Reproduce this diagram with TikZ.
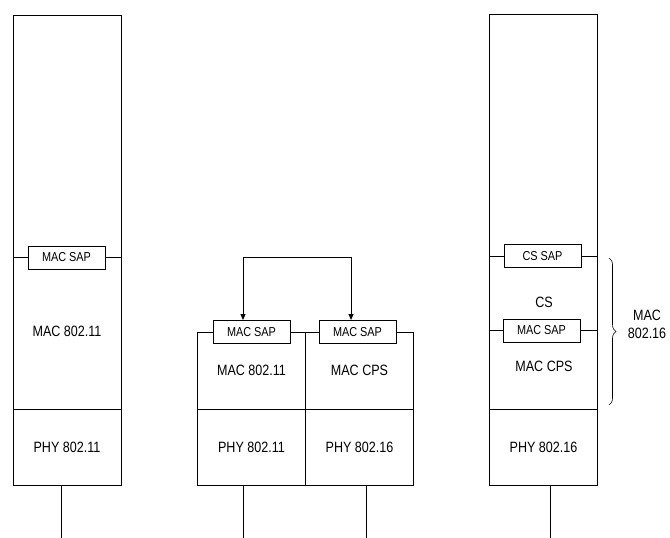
\documentclass[tikz,border=0pt]{standalone}
\usepackage{fontspec}
\setmainfont{Liberation Sans}[FakeStretch=0.84]
\usetikzlibrary{arrows.meta, positioning, decorations.pathreplacing}

\tikzset{
    layer/.style={draw, line width=1pt, inner sep=0pt, outer sep=0pt, minimum width=108bp},
    sapbox/.style={draw, fill=white, line width=1pt, inner sep=0pt, minimum width=77bp, minimum height=23bp, font=\fontsize{13}{15}\selectfont},
    lbl/.style={inner sep=0pt, font=\fontsize{15}{18}\selectfont},
    wire/.style={line width=1pt},
}

\begin{document}
\begin{tikzpicture}[x=1bp, y=-1bp]
    \useasboundingbox (0,0) rectangle (670,538);

    % Pila izquierda: 802.11
    \node[layer, minimum height=393bp] (lUp) at (67,212.5) {};
    \node[layer, minimum height=76bp, below=0pt of lUp] (lPhy) {};
    \node[lbl] (lMac) at (67,331) {MAC 802.11};
    \node[lbl] (lPhyTxt) at (lPhy) {PHY 802.11};
    \node[sapbox] (lSap) at (66.5,257.5) {MAC SAP};
    \draw[wire] (lSap.west) -- (lSap.west -| lUp.west);
    \draw[wire] (lSap.east) -- (lSap.east -| lUp.east);
    \coordinate (lEnd) at (61,538);
    \draw[wire] (lPhy.south -| lEnd) -- (lEnd);

    % Pila central: puente 802.11 / 802.16
    \node[layer, minimum height=77bp] (mMac) at (251.5,370.5) {};
    \node[layer, minimum height=77bp, right=0pt of mMac] (mCps) {};
    \node[layer, minimum height=76bp, below=0pt of mMac] (mPhyA) {};
    \node[layer, minimum height=76bp, below=0pt of mCps] (mPhyB) {};
    \node[lbl] (mMacTxt) at (mMac) {MAC 802.11};
    \node[lbl] (mCpsTxt) at (mCps) {MAC CPS};
    \node[lbl] (mPhyATxt) at (mPhyA) {PHY 802.11};
    \node[lbl] (mPhyBTxt) at (mPhyB) {PHY 802.16};
    \node[sapbox] (mSapA) at (mMac.north) {MAC SAP};
    \node[sapbox, xshift=-2bp] (mSapB) at (mCps.north) {MAC SAP};

    % Flecha entre los dos SAP
    \coordinate (loopA) at (243,257);
    \coordinate (loopB) at (351,257);
    \draw[wire, {Triangle[length=6bp,width=5bp]}-{Triangle[length=6bp,width=5bp]}]
        (loopA |- mSapA.north) -- (loopA) -- (loopB) -- (loopB |- mSapB.north);

    \coordinate (mEndA) at (243,538);
    \coordinate (mEndB) at (366,538);
    \draw[wire] (mPhyA.south -| mEndA) -- (mEndA);
    \draw[wire] (mPhyB.south -| mEndB) -- (mEndB);

    % Pila derecha: 802.16
    \node[layer, minimum height=394bp] (rUp) at (543.5,212) {};
    \node[layer, minimum height=76bp, below=0pt of rUp] (rPhy) {};
    \node[lbl] (rCs) at (544,302) {CS};
    \node[lbl] (rCps) at (544,366) {MAC CPS};
    \node[lbl] (rPhyTxt) at (rPhy) {PHY 802.16};
    \node[sapbox] (rCsSap) at (542.5,256) {CS SAP};
    \node[sapbox] (rMacSap) at (541.5,330.5) {MAC SAP};
    \foreach \s in {rCsSap, rMacSap} {
        \draw[wire] (\s.west) -- (\s.west -| rUp.west);
        \draw[wire] (\s.east) -- (\s.east -| rUp.east);
    }
    \coordinate (rEnd) at (550,538);
    \draw[wire] (rPhy.south -| rEnd) -- (rEnd);

    % Llave: MAC 802.16
    \coordinate (brTop) at (609,258);
    \coordinate (brBot) at (609,405);
    \draw[line width=0.6pt, decorate, decoration={brace, amplitude=7bp}] (brTop) -- (brBot);
    \node[lbl, align=center] (rMacLbl) at (647,324) {MAC\\802.16};

\end{tikzpicture}
\end{document}
